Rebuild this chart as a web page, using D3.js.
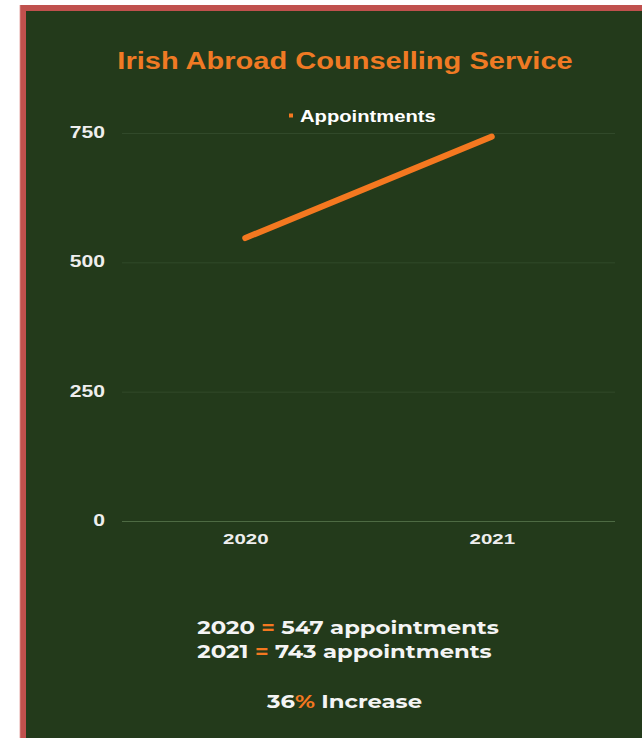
<!DOCTYPE html>
<html><head><meta charset="utf-8">
<script src="https://cdn.jsdelivr.net/npm/d3@7"></script>
<style>html,body{margin:0;padding:0;background:#fff;}svg{display:block;}</style>
</head><body>
<svg id="c" width="642" height="738"></svg>
<script>
const years = ["2020", "2021"];
const appointments = [547, 743];
const yTicks = [0, 250, 500, 750];
const seriesName = "Appointments";
const titleText = "Irish Abroad Counselling Service";
const summaryLines = [["2020", " = ", "547 appointments"], ["2021", " = ", "743 appointments"]];
const increaseParts = ["36", "%", " Increase"];

const svg = d3.select("#c");
const green = "#233a1b", orange = "#f47820", red = "#c0504d";

svg.append("rect").attr("x", 19).attr("y", 5).attr("width", 660).attr("height", 760).attr("fill", red);
svg.append("rect").attr("x", 19).attr("y", 5).attr("width", 1.2).attr("height", 760).attr("fill", "#f3d6d5");
svg.append("rect").attr("x", 26).attr("y", 11).attr("width", 640).attr("height", 760).attr("fill", green);

const font = "Liberation Sans, Arial, sans-serif";

svg.append("text").attr("transform", "translate(345,69) scale(1.21,1)").attr("text-anchor", "middle")
  .attr("font-family", font).attr("font-weight", "bold")
  .attr("font-size", 24).attr("fill", "#f07a24").text(titleText);

const x = d3.scalePoint().domain(years).range([122, 615]).padding(0.5);
const y = d3.scaleLinear().domain([0, 750]).range([521, 133]);

const yAxis = svg.append("g").attr("transform", "translate(122,0)")
  .call(d3.axisLeft(y).tickValues(yTicks).tickSize(-493).tickPadding(17));
yAxis.select(".domain").remove();
yAxis.selectAll(".tick line").attr("stroke", d => d === 0 ? "#4d6a43" : "#31492a").attr("stroke-width", 1);
yAxis.selectAll(".tick text").attr("font-family", font).attr("font-weight", "bold")
  .attr("font-size", 16.5).attr("fill", "#eeeeee").attr("dy", "0.28em")
  .attr("x", -17 / 1.28).attr("transform", "scale(1.28,1)");

const xAxis = svg.append("g").attr("transform", "translate(0,521)")
  .call(d3.axisBottom(x).tickSize(0).tickPadding(11));
xAxis.select(".domain").remove();
xAxis.selectAll(".tick text").attr("font-family", font).attr("font-weight", "bold")
  .attr("font-size", 15.5).attr("fill", "#eeeeee").attr("dy", "0.8em")
  .attr("transform", "scale(1.32,1)");

const data = years.map((yr, i) => ({yr, v: appointments[i]}));
svg.append("path").datum(data)
  .attr("d", d3.line().x(d => x(d.yr)).y(d => y(d.v)))
  .attr("fill", "none").attr("stroke", orange).attr("stroke-width", 6).attr("stroke-linecap", "round");

svg.append("rect").attr("x", 289).attr("y", 113.5).attr("width", 4).attr("height", 4).attr("fill", orange);
svg.append("text").attr("transform", "translate(300,122) scale(1.28,1)").attr("font-family", font).attr("font-weight", "bold")
  .attr("font-size", 15.8).attr("fill", "#ffffff").text(seriesName);

const sFont = "Montserrat, 'DejaVu Sans', sans-serif";
const centers = [348, 344.5];
summaryLines.forEach((parts, i) => {
  const t = svg.append("text").attr("transform", `translate(${centers[i]},${634 + i * 24}) scale(1.3,1)`).attr("text-anchor", "middle")
    .attr("font-family", sFont).attr("font-weight", "bold").attr("font-size", 17.5).attr("fill", "#f4f4f4");
  t.append("tspan").text(parts[0]);
  t.append("tspan").attr("fill", orange).text(parts[1]);
  t.append("tspan").text(parts[2]);
});
const inc = svg.append("text").attr("transform", "translate(344.5,708) scale(1.3,1)").attr("text-anchor", "middle")
  .attr("font-family", sFont).attr("font-weight", "bold").attr("font-size", 17.5).attr("fill", "#f4f4f4");
inc.append("tspan").text(increaseParts[0]);
inc.append("tspan").attr("fill", orange).text(increaseParts[1]);
inc.append("tspan").text(increaseParts[2]);
</script>
</body></html>
